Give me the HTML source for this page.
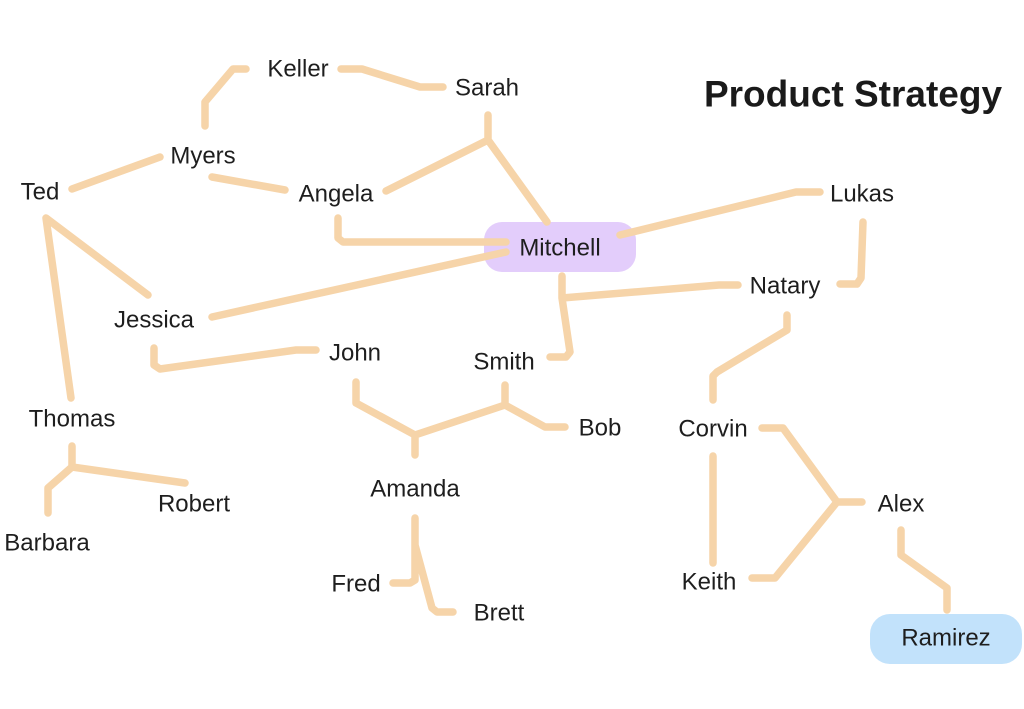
<!DOCTYPE html>
<html><head><meta charset="utf-8"><style>
html,body{margin:0;padding:0;background:#fff;}
svg{display:block;}
text{font-family:"Liberation Sans",sans-serif;font-size:24px;fill:#1e1e1e;}
</style></head><body>
<svg width="1024" height="709" viewBox="0 0 1024 709" xmlns="http://www.w3.org/2000/svg">
<rect x="484" y="222" width="152" height="50" rx="18" fill="#e3cdfb"/>
<rect x="870" y="614" width="152" height="50" rx="20" fill="#c2e2fb"/>
<g fill="none" stroke="#f6d4a9" stroke-width="7.5" stroke-linecap="round" stroke-linejoin="round">
<path d="M246,69 L233,69 L205,102 L205,126"/>
<path d="M341,69 L362,69 L420,87 L443,87"/>
<path d="M488,115 L488,140 L386,191 M488,140 L547,222"/>
<path d="M160,157 L72,189"/>
<path d="M212,177 L285,190"/>
<path d="M46,218 L148,295 M46,218 L71,398"/>
<path d="M338,218 L338,238 L343,242 L506,242"/>
<path d="M212,317 L506,252"/>
<path d="M620,235 L796,192 L820,192"/>
<path d="M863,222 L861,278 L857,284 L840,284"/>
<path d="M562,276 L562,298 L719,285 L738,285 M562,298 L570,352 L566,357 L550,357"/>
<path d="M154,348 L154,365 L160,369 L296,350 L316,350"/>
<path d="M356,382 L356,403 L415,435 L415,455 M415,435 L505,405 L505,385 M505,405 L545,427 L565,427"/>
<path d="M72,446 L72,467 L48,488 L48,513 M72,467 L185,483"/>
<path d="M415,518 L415,580 L410,583 L393,583 M415,545 L432,608 L437,612 L453,612"/>
<path d="M787,315 L787,330 L717,372 L713,376 L713,400"/>
<path d="M713,456 L713,563"/>
<path d="M762,428 L783,428 L837,502 L862,502 M837,502 L775,578 L752,578"/>
<path d="M901,530 L901,555 L947,588 L947,610"/>
</g>
<g text-anchor="middle" dominant-baseline="central">
<text x="298" y="69">Keller</text>
<text x="487" y="88">Sarah</text>
<text x="203" y="156">Myers</text>
<text x="40" y="192">Ted</text>
<text x="336" y="194">Angela</text>
<text x="560" y="248">Mitchell</text>
<text x="862" y="194">Lukas</text>
<text x="785" y="286">Natary</text>
<text x="154" y="320">Jessica</text>
<text x="355" y="353">John</text>
<text x="504" y="362">Smith</text>
<text x="600" y="428">Bob</text>
<text x="713" y="429">Corvin</text>
<text x="72" y="419">Thomas</text>
<text x="415" y="489">Amanda</text>
<text x="901" y="504">Alex</text>
<text x="194" y="504">Robert</text>
<text x="47" y="543">Barbara</text>
<text x="356" y="584">Fred</text>
<text x="709" y="582">Keith</text>
<text x="499" y="613">Brett</text>
<text x="946" y="638">Ramirez</text>
<text x="853" y="94" style="font-size:37px;font-weight:bold;fill:#1a1a1a">Product Strategy</text>
</g>
</svg>
</body></html>
